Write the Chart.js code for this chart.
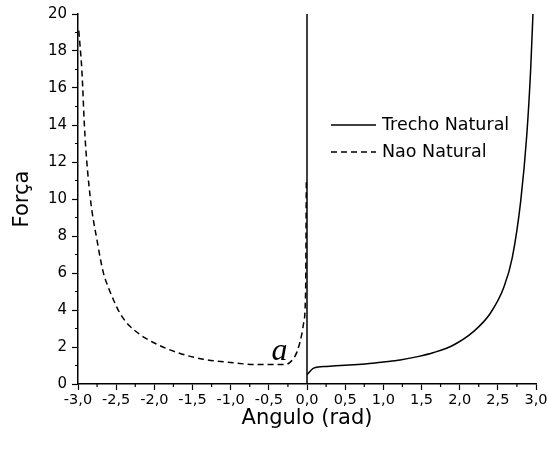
<!DOCTYPE html>
<html><head><meta charset="utf-8">
<script src="https://cdn.jsdelivr.net/npm/chart.js@4"></script>
<style>html,body{margin:0;padding:0;background:#fff}</style>
</head><body>
<canvas id="c" width="547" height="455"></canvas>
<script>
// ---- data ----
const naturalX = [0, 0.087, 0.26, 0.5, 0.79, 1.0, 1.22, 1.45, 1.66, 1.92, 2.18, 2.40, 2.58, 2.69, 2.80, 2.88, 2.93, 2.96];
const naturalY = [0.5, 0.86, 0.95, 1.02, 1.09, 1.19, 1.30, 1.48, 1.70, 2.11, 2.83, 3.81, 5.24, 6.85, 9.9, 13.5, 17.0, 20.0];
const naturalVertX = [0, 0];
const naturalVertY = [0, 20];
const naoX = [-2.99, -2.95, -2.91, -2.84, -2.75, -2.67, -2.60, -2.53, -2.45, -2.36, -2.18, -1.97, -1.70, -1.36, -1.00, -0.66, -0.31, -0.22, -0.13, -0.066, -0.045, -0.018, -0.009];
const naoY = [19.1, 17.0, 13.5, 10.1, 7.75, 6.05, 5.2, 4.5, 3.82, 3.3, 2.65, 2.16, 1.70, 1.34, 1.16, 1.05, 1.05, 1.18, 1.75, 2.74, 3.27, 5.06, 11.0];
const xTickValues = [-3, -2.5, -2, -1.5, -1, -0.5, 0, 0.5, 1, 1.5, 2, 2.5, 3];
const xTickLabels = ['-3,0','-2,5','-2,0','-1,5','-1,0','-0,5','0,0','0,5','1,0','1,5','2,0','2,5','3,0'];
const xMinorValues = [-2.75, -2.25, -1.75, -1.25, -0.75, -0.25, 0.25, 0.75, 1.25, 1.75, 2.25, 2.75];
const yTickValues = [0, 2, 4, 6, 8, 10, 12, 14, 16, 18, 20];
const yTickLabels = ['0','2','4','6','8','10','12','14','16','18','20'];
const yMinorValues = [1, 3, 5, 7, 9, 11, 13, 15, 17, 19];
const seriesNames = ['Trecho Natural', 'Nao Natural'];
const annotationText = 'a';
const annotationPos = {x: -0.36, y: 1.30};
const xTitle = 'Angulo (rad)';
const yTitle = 'Força';

const toPts = (xs, ys) => xs.map((x, i) => ({x: x, y: ys[i]}));
const FONT = '"DejaVu Sans", sans-serif';

const extras = {
  id: 'extras',
  afterDraw(chart) {
    const ctx = chart.ctx;
    const xs = chart.scales.x, ys = chart.scales.y;
    const ca = chart.chartArea;
    ctx.save();
    ctx.strokeStyle = '#000';
    ctx.lineWidth = 1.2;
    ctx.beginPath();
    xMinorValues.forEach(v => {
      const px = xs.getPixelForValue(v);
      ctx.moveTo(px, ca.bottom); ctx.lineTo(px, ca.bottom + 3);
    });
    yMinorValues.forEach(v => {
      const py = ys.getPixelForValue(v);
      ctx.moveTo(ca.left, py); ctx.lineTo(ca.left - 3, py);
    });
    ctx.stroke();

    // legend
    const ds = chart.data.datasets;
    const rows = [{ds: ds[0], y: 125}, {ds: ds[2], y: 152}];
    ctx.font = '17.5px ' + FONT;
    ctx.fillStyle = '#000';
    ctx.textBaseline = 'middle';
    ctx.textAlign = 'left';
    rows.forEach((r, i) => {
      ctx.beginPath();
      ctx.lineWidth = r.ds.borderWidth;
      ctx.setLineDash(r.ds.borderDash || []);
      ctx.moveTo(331, r.y); ctx.lineTo(376, r.y);
      ctx.stroke();
      ctx.setLineDash([]);
      ctx.fillText(seriesNames[i], 382, r.y);
    });

    // annotation
    ctx.font = 'italic 32px "Liberation Serif", serif';
    ctx.textAlign = 'center';
    ctx.textBaseline = 'alphabetic';
    ctx.fillText(annotationText, xs.getPixelForValue(annotationPos.x), ys.getPixelForValue(annotationPos.y));
    ctx.restore();
  }
};

new Chart(document.getElementById('c'), {
  type: 'line',
  data: {
    datasets: [
      {label: seriesNames[0], data: toPts(naturalX, naturalY), borderColor: '#000', borderWidth: 1.5, pointRadius: 0, fill: false, cubicInterpolationMode: 'monotone'},
      {label: seriesNames[0] + ' (0)', data: toPts(naturalVertX, naturalVertY), borderColor: '#000', borderWidth: 1.5, pointRadius: 0, fill: false, tension: 0},
      {label: seriesNames[1], data: toPts(naoX, naoY), borderColor: '#000', borderWidth: 1.5, borderDash: [6, 4], pointRadius: 0, fill: false, cubicInterpolationMode: 'monotone'}
    ]
  },
  options: {
    responsive: false,
    animation: false,
    devicePixelRatio: 1,
    layout: {padding: {top: 12, right: 11, left: 0, bottom: 0}},
    plugins: {legend: {display: false}, tooltip: {enabled: false}},
    scales: {
      x: {
        type: 'linear', min: -3, max: 3,
        afterBuildTicks: s => { s.ticks = xTickValues.map(v => ({value: v})); },
        afterFit: s => { s.height = 71; s.paddingRight = 0; s.paddingLeft = 0; },
        ticks: {
          callback: v => xTickLabels[xTickValues.indexOf(v)],
          font: {family: FONT, size: 14.5}, color: '#000', padding: 2, maxRotation: 0, autoSkip: false
        },
        grid: {drawOnChartArea: false, drawTicks: true, tickLength: 6, tickColor: '#000', tickWidth: 1.2},
        border: {display: true, color: '#000', width: 1.5},
        title: {display: true, text: xTitle, color: '#000', font: {family: FONT, size: 21}, padding: {top: 0, bottom: 24}}
      },
      y: {
        type: 'linear', min: 0, max: 20,
        afterBuildTicks: s => { s.ticks = yTickValues.map(v => ({value: v})); },
        afterFit: s => { s.width = 78; },
        ticks: {
          callback: v => yTickLabels[yTickValues.indexOf(v)],
          font: {family: FONT, size: 15}, color: '#000', padding: 5, autoSkip: false
        },
        grid: {drawOnChartArea: false, drawTicks: true, tickLength: 6, tickColor: '#000', tickWidth: 1.2},
        border: {display: true, color: '#000', width: 1.5},
        title: {display: true, text: yTitle, color: '#000', font: {family: FONT, size: 21}, padding: {top: 10, bottom: 0}}
      }
    }
  },
  plugins: [extras]
});
</script>
</body></html>
